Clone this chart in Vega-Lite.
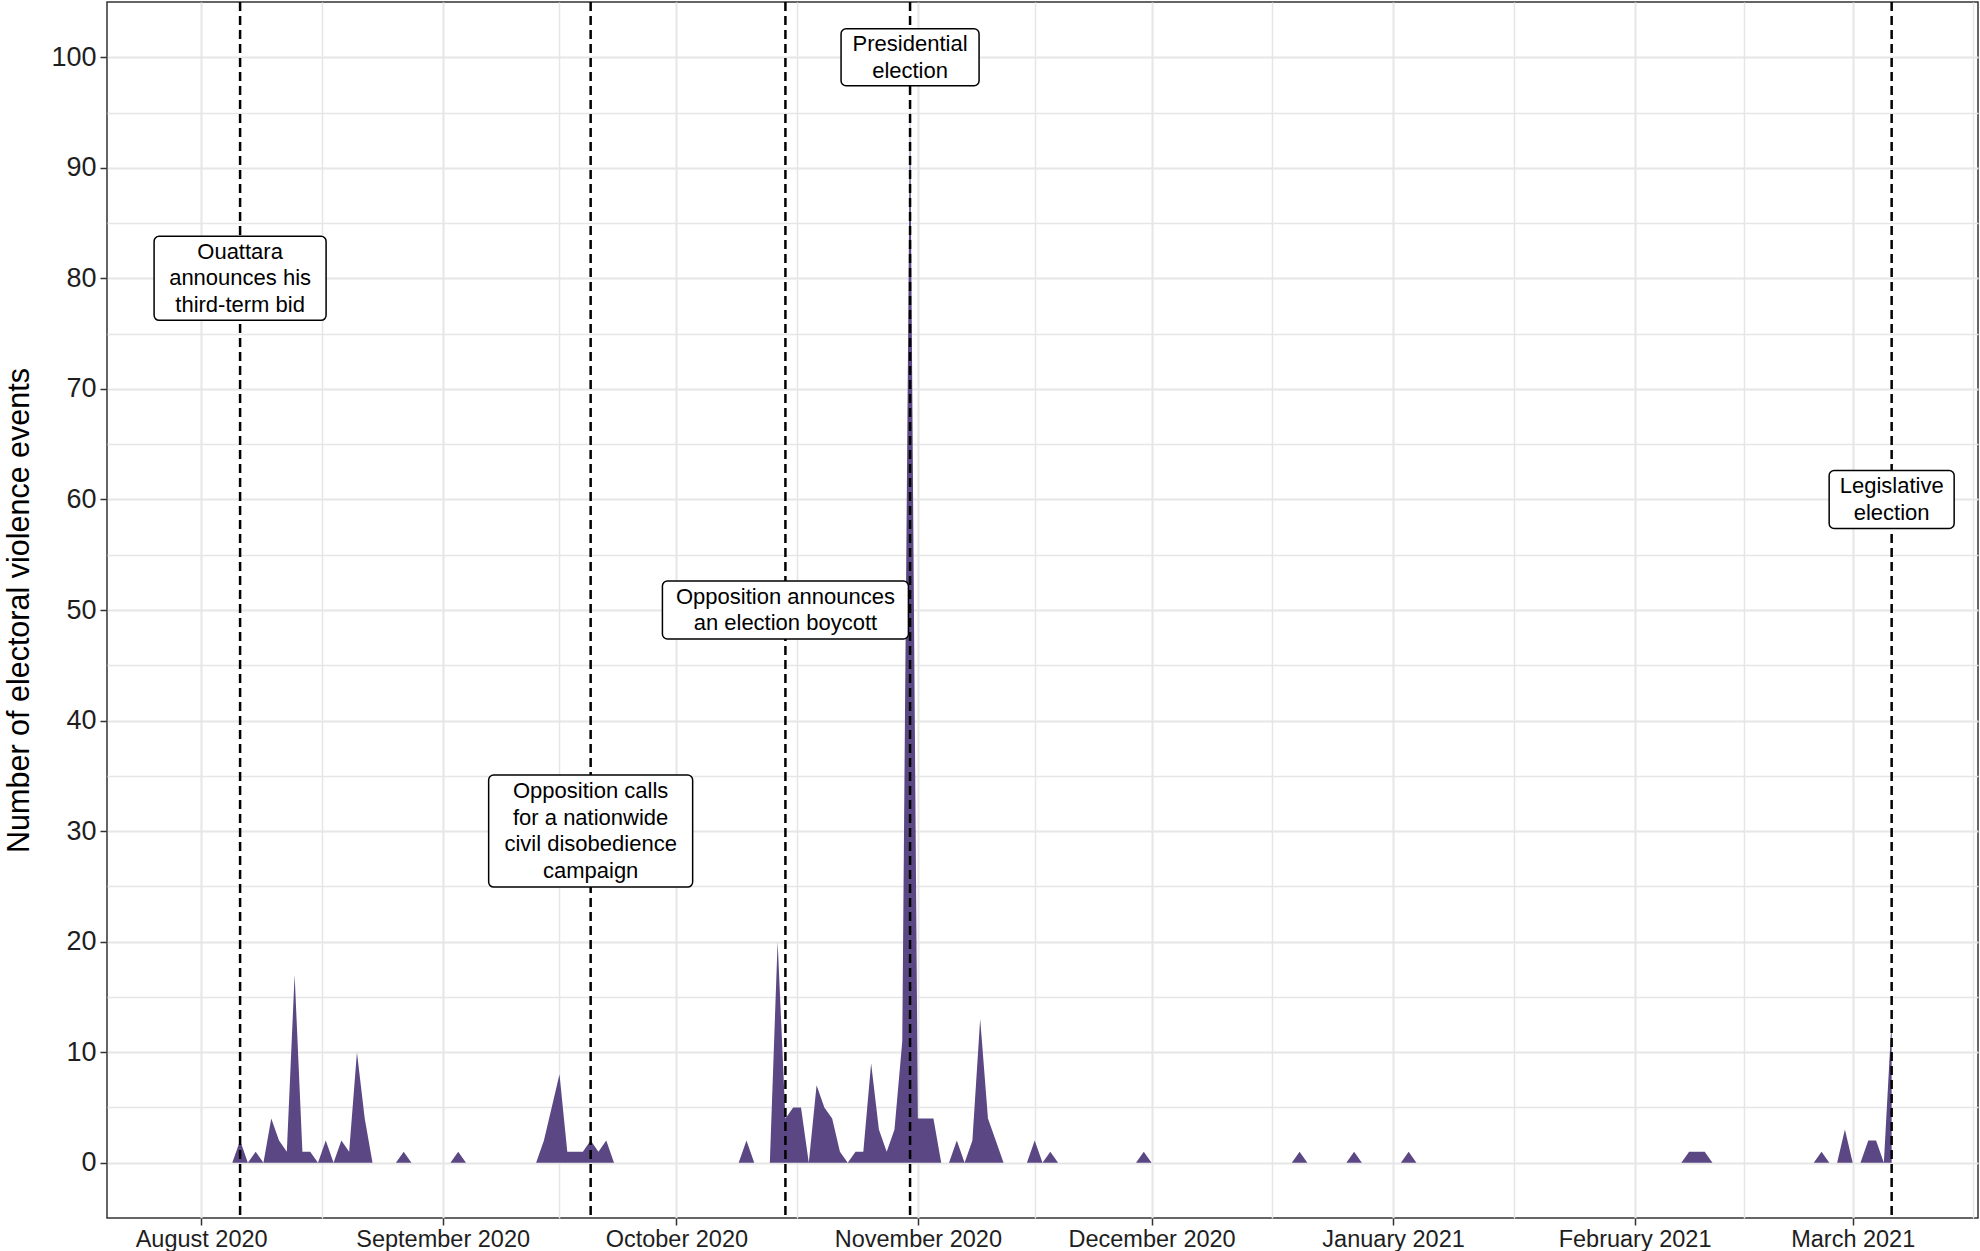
{
  "$schema": "https://vega.github.io/schema/vega-lite/v6.json",
  "width": 1871,
  "height": 1216,
  "autosize": {"type": "none"},
  "padding": {"left": 107, "top": 2, "right": 2, "bottom": 33},
  "background": "white",
  "config": {
    "font": "Liberation Sans",
    "view": {"stroke": "#333333", "strokeWidth": 1.5}
  },
  "datasets": {
    "violence": [
      {"date": "2020-08-05", "events": 0},
      {"date": "2020-08-06", "events": 2},
      {"date": "2020-08-07", "events": 0},
      {"date": "2020-08-08", "events": 1},
      {"date": "2020-08-09", "events": 0},
      {"date": "2020-08-10", "events": 4},
      {"date": "2020-08-11", "events": 2},
      {"date": "2020-08-12", "events": 1},
      {"date": "2020-08-13", "events": 17},
      {"date": "2020-08-14", "events": 1},
      {"date": "2020-08-15", "events": 1},
      {"date": "2020-08-16", "events": 0},
      {"date": "2020-08-17", "events": 2},
      {"date": "2020-08-18", "events": 0},
      {"date": "2020-08-19", "events": 2},
      {"date": "2020-08-20", "events": 1},
      {"date": "2020-08-21", "events": 10},
      {"date": "2020-08-22", "events": 4},
      {"date": "2020-08-23", "events": 0},
      {"date": "2020-08-26", "events": 0},
      {"date": "2020-08-27", "events": 1},
      {"date": "2020-08-28", "events": 0},
      {"date": "2020-09-02", "events": 0},
      {"date": "2020-09-03", "events": 1},
      {"date": "2020-09-04", "events": 0},
      {"date": "2020-09-13", "events": 0},
      {"date": "2020-09-14", "events": 2},
      {"date": "2020-09-15", "events": 5},
      {"date": "2020-09-16", "events": 8},
      {"date": "2020-09-17", "events": 1},
      {"date": "2020-09-18", "events": 1},
      {"date": "2020-09-19", "events": 1},
      {"date": "2020-09-20", "events": 2},
      {"date": "2020-09-21", "events": 1},
      {"date": "2020-09-22", "events": 2},
      {"date": "2020-09-23", "events": 0},
      {"date": "2020-10-09", "events": 0},
      {"date": "2020-10-10", "events": 2},
      {"date": "2020-10-11", "events": 0},
      {"date": "2020-10-13", "events": 0},
      {"date": "2020-10-14", "events": 20},
      {"date": "2020-10-15", "events": 4},
      {"date": "2020-10-16", "events": 5},
      {"date": "2020-10-17", "events": 5},
      {"date": "2020-10-18", "events": 0},
      {"date": "2020-10-19", "events": 7},
      {"date": "2020-10-20", "events": 5},
      {"date": "2020-10-21", "events": 4},
      {"date": "2020-10-22", "events": 1},
      {"date": "2020-10-23", "events": 0},
      {"date": "2020-10-24", "events": 1},
      {"date": "2020-10-25", "events": 1},
      {"date": "2020-10-26", "events": 9},
      {"date": "2020-10-27", "events": 3},
      {"date": "2020-10-28", "events": 1},
      {"date": "2020-10-29", "events": 3},
      {"date": "2020-10-30", "events": 11},
      {"date": "2020-10-31", "events": 96},
      {"date": "2020-11-01", "events": 4},
      {"date": "2020-11-02", "events": 4},
      {"date": "2020-11-03", "events": 4},
      {"date": "2020-11-04", "events": 0},
      {"date": "2020-11-05", "events": 0},
      {"date": "2020-11-06", "events": 2},
      {"date": "2020-11-07", "events": 0},
      {"date": "2020-11-08", "events": 2},
      {"date": "2020-11-09", "events": 13},
      {"date": "2020-11-10", "events": 4},
      {"date": "2020-11-11", "events": 2},
      {"date": "2020-11-12", "events": 0},
      {"date": "2020-11-15", "events": 0},
      {"date": "2020-11-16", "events": 2},
      {"date": "2020-11-17", "events": 0},
      {"date": "2020-11-18", "events": 1},
      {"date": "2020-11-19", "events": 0},
      {"date": "2020-11-29", "events": 0},
      {"date": "2020-11-30", "events": 1},
      {"date": "2020-12-01", "events": 0},
      {"date": "2020-12-19", "events": 0},
      {"date": "2020-12-20", "events": 1},
      {"date": "2020-12-21", "events": 0},
      {"date": "2020-12-26", "events": 0},
      {"date": "2020-12-27", "events": 1},
      {"date": "2020-12-28", "events": 0},
      {"date": "2021-01-02", "events": 0},
      {"date": "2021-01-03", "events": 1},
      {"date": "2021-01-04", "events": 0},
      {"date": "2021-02-07", "events": 0},
      {"date": "2021-02-08", "events": 1},
      {"date": "2021-02-09", "events": 1},
      {"date": "2021-02-10", "events": 1},
      {"date": "2021-02-11", "events": 0},
      {"date": "2021-02-24", "events": 0},
      {"date": "2021-02-25", "events": 1},
      {"date": "2021-02-26", "events": 0},
      {"date": "2021-02-27", "events": 0},
      {"date": "2021-02-28", "events": 3},
      {"date": "2021-03-01", "events": 0},
      {"date": "2021-03-02", "events": 0},
      {"date": "2021-03-03", "events": 2},
      {"date": "2021-03-04", "events": 2},
      {"date": "2021-03-05", "events": 0},
      {"date": "2021-03-06", "events": 13}
    ],
    "milestones": [
      {"date": "2020-08-06", "level": 80, "label": "Ouattara\nannounces his\nthird-term bid"},
      {"date": "2020-09-20", "level": 30, "label": "Opposition calls\nfor a nationwide\ncivil disobedience\ncampaign"},
      {"date": "2020-10-15", "level": 50, "label": "Opposition announces\nan election boycott"},
      {"date": "2020-10-31", "level": 100, "label": "Presidential\nelection"},
      {"date": "2021-03-06", "level": 60, "label": "Legislative\nelection"}
    ]
  },
  "encoding": {
    "x": {
      "field": "date",
      "type": "temporal",
      "title": null,
      "scale": {
        "type": "utc",
        "domain": [
          {"year": 2020, "month": 7, "date": 19, "hours": 22, "utc": true},
          {"year": 2021, "month": 3, "date": 17, "hours": 2, "utc": true}
        ]
      },
      "axis": {
        "values": [
          {"year": 2020, "month": 8, "date": 1, "utc": true},
          {"year": 2020, "month": 8, "date": 16, "hours": 12, "utc": true},
          {"year": 2020, "month": 9, "date": 1, "utc": true},
          {"year": 2020, "month": 9, "date": 16, "utc": true},
          {"year": 2020, "month": 10, "date": 1, "utc": true},
          {"year": 2020, "month": 10, "date": 16, "hours": 12, "utc": true},
          {"year": 2020, "month": 11, "date": 1, "utc": true},
          {"year": 2020, "month": 11, "date": 16, "utc": true},
          {"year": 2020, "month": 12, "date": 1, "utc": true},
          {"year": 2020, "month": 12, "date": 16, "hours": 12, "utc": true},
          {"year": 2021, "month": 1, "date": 1, "utc": true},
          {"year": 2021, "month": 1, "date": 16, "hours": 12, "utc": true},
          {"year": 2021, "month": 2, "date": 1, "utc": true},
          {"year": 2021, "month": 2, "date": 15, "utc": true},
          {"year": 2021, "month": 3, "date": 1, "utc": true},
          {"year": 2021, "month": 3, "date": 16, "hours": 12, "utc": true}
        ],
        "labelExpr": "utcdate(datum.value) === 1 && utchours(datum.value) === 0 ? utcFormat(datum.value, '%B %Y') : ''",
        "tickOpacity": {"condition": {"test": "utcdate(datum.value) === 1 && utchours(datum.value) === 0", "value": 1}, "value": 0},
        "gridWidth": {"condition": {"test": "utcdate(datum.value) === 1 && utchours(datum.value) === 0", "value": 2}, "value": 1.5},
        "gridColor": "#e6e6e6",
        "domain": false,
        "tickSize": 7,
        "tickWidth": 1.5,
        "tickColor": "#333333",
        "labelFontSize": 23.5,
        "labelColor": "#1e1e1e",
        "labelPadding": 21,
        "labelBaseline": "alphabetic",
        "labelFlush": false,
        "labelOverlap": false
      }
    }
  },
  "layer": [
    {
      "data": {"name": "violence"},
      "mark": {"type": "area", "color": "#5b4784", "opacity": 1},
      "encoding": {
        "y": {
          "field": "events",
          "type": "quantitative",
          "title": "Number of electoral violence events",
          "scale": {"domain": [-5, 105], "nice": false, "zero": false},
          "axis": {
            "values": [0, 5, 10, 15, 20, 25, 30, 35, 40, 45, 50, 55, 60, 65, 70, 75, 80, 85, 90, 95, 100],
            "labelExpr": "datum.value % 10 === 0 ? datum.label : ''",
            "tickOpacity": {"condition": {"test": "datum.value % 10 === 0", "value": 1}, "value": 0},
            "gridWidth": {"condition": {"test": "datum.value % 10 === 0", "value": 2}, "value": 1.5},
            "gridColor": "#e6e6e6",
            "domain": false,
            "tickSize": 7,
            "tickWidth": 1.5,
            "tickColor": "#333333",
            "labelFontSize": 27,
            "labelColor": "#1e1e1e",
            "labelPadding": 4,
            "labelOverlap": false,
            "titleFontSize": 30.5,
            "titleFontWeight": "normal",
            "titleColor": "black",
            "titleAngle": 270,
            "titleAlign": "center",
            "titleBaseline": "alphabetic",
            "titleX": -79,
            "titleY": 608
          }
        }
      }
    },
    {
      "data": {"name": "milestones"},
      "mark": {"type": "rule", "color": "black", "strokeWidth": 2.5, "strokeDash": [9, 5]},
      "encoding": {}
    },
    {
      "data": {"name": "milestones"},
      "transform": [{"filter": "datum.level === 80"}],
      "mark": {"type": "rect", "width": 172, "height": 84, "fill": "white", "stroke": "black", "strokeWidth": 1.5, "cornerRadius": 5},
      "encoding": {"y": {"field": "level", "type": "quantitative", "title": "Number of electoral violence events"}}
    },
    {
      "data": {"name": "milestones"},
      "transform": [{"filter": "datum.level === 30"}],
      "mark": {"type": "rect", "width": 204, "height": 112, "fill": "white", "stroke": "black", "strokeWidth": 1.5, "cornerRadius": 5},
      "encoding": {"y": {"field": "level", "type": "quantitative", "title": "Number of electoral violence events"}}
    },
    {
      "data": {"name": "milestones"},
      "transform": [{"filter": "datum.level === 50"}],
      "mark": {"type": "rect", "width": 246, "height": 58, "fill": "white", "stroke": "black", "strokeWidth": 1.5, "cornerRadius": 5},
      "encoding": {"y": {"field": "level", "type": "quantitative", "title": "Number of electoral violence events"}}
    },
    {
      "data": {"name": "milestones"},
      "transform": [{"filter": "datum.level === 100"}],
      "mark": {"type": "rect", "width": 138, "height": 57, "fill": "white", "stroke": "black", "strokeWidth": 1.5, "cornerRadius": 5},
      "encoding": {"y": {"field": "level", "type": "quantitative", "title": "Number of electoral violence events"}}
    },
    {
      "data": {"name": "milestones"},
      "transform": [{"filter": "datum.level === 60"}],
      "mark": {"type": "rect", "width": 125, "height": 58, "fill": "white", "stroke": "black", "strokeWidth": 1.5, "cornerRadius": 5},
      "encoding": {"y": {"field": "level", "type": "quantitative", "title": "Number of electoral violence events"}}
    },
    {
      "data": {"name": "milestones"},
      "transform": [{"filter": "datum.level === 80"}],
      "mark": {"type": "text", "fontSize": 22, "lineHeight": 26.5, "lineBreak": "\n", "align": "center", "baseline": "middle", "dy": -26.5, "color": "black"},
      "encoding": {
        "y": {"field": "level", "type": "quantitative", "title": "Number of electoral violence events"},
        "text": {"field": "label"}
      }
    },
    {
      "data": {"name": "milestones"},
      "transform": [{"filter": "datum.level === 30"}],
      "mark": {"type": "text", "fontSize": 22, "lineHeight": 26.5, "lineBreak": "\n", "align": "center", "baseline": "middle", "dy": -39.75, "color": "black"},
      "encoding": {
        "y": {"field": "level", "type": "quantitative", "title": "Number of electoral violence events"},
        "text": {"field": "label"}
      }
    },
    {
      "data": {"name": "milestones"},
      "transform": [{"filter": "datum.level === 50 || datum.level === 100 || datum.level === 60"}],
      "mark": {"type": "text", "fontSize": 22, "lineHeight": 26.5, "lineBreak": "\n", "align": "center", "baseline": "middle", "dy": -13.25, "color": "black"},
      "encoding": {
        "y": {"field": "level", "type": "quantitative", "title": "Number of electoral violence events"},
        "text": {"field": "label"}
      }
    }
  ]
}
